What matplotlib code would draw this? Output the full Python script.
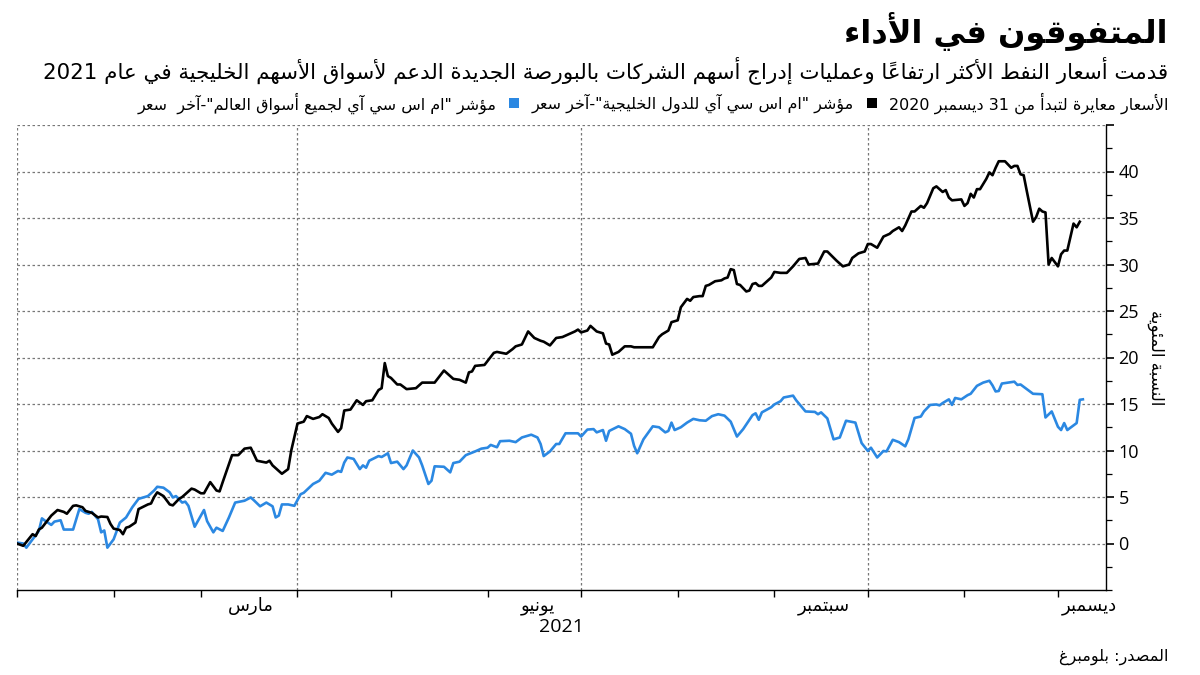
import numpy as np
import pandas as pd
import matplotlib
matplotlib.use('Agg')
import matplotlib.pyplot as plt
import matplotlib.dates as mdates
from matplotlib.ticker import MultipleLocator, FixedLocator, FixedFormatter, NullFormatter, FuncFormatter
from matplotlib.patches import Rectangle

# ---------------- data ----------------
BASE_DATE = '2021-01-01'
gcc_days = [0, 2, 5, 6, 7, 8, 11, 13, 15, 16, 18, 19, 21, 22, 24, 26, 27, 29, 30, 31, 33, 34, 35, 36, 38, 39,
            42, 43, 44, 45, 47, 49, 50, 52, 53, 56, 57, 59, 60, 62, 64, 65, 66, 69, 71, 73, 75, 77, 80, 81, 82,
            85, 87, 88, 90, 92, 93, 95, 97, 98, 100, 101, 103, 104, 105, 107, 109, 111, 112, 114, 116, 117, 118,
            119, 120, 122, 123, 125, 128, 130, 134, 137, 140, 142, 144, 145, 146, 147, 150, 153, 154, 157, 159,
            160, 162, 164, 166, 168, 169, 171, 173, 175, 177, 179, 180, 181, 183, 184, 186, 188, 189, 190, 191,
            193, 195, 197, 198, 204, 206, 207, 209, 210, 212, 213, 215, 216, 217, 219, 220, 221, 222, 224, 226,
            227, 228, 229, 230, 231, 232, 234, 235, 236, 237, 238, 239, 242, 243, 245, 247, 249, 251, 253, 254,
            257, 259, 260, 263, 265, 267, 268, 270, 272, 273, 274, 276, 278, 280, 281, 282, 283, 284, 285, 287,
            288, 290, 291, 292, 294, 295, 297, 298, 299, 300, 303, 304, 305, 306, 307, 308, 309, 311, 312, 313,
            314, 315, 317, 319, 320, 321, 322, 323, 324, 326, 327, 328, 329, 330, 331, 332, 334, 335, 336, 337,
            339, 340, 341]
gcc_vals = [0.0, -0.25, 1.0, 0.8, 1.5, 1.7, 3.0, 3.6, 3.4, 3.2, 4.05, 4.1, 3.9, 3.5, 3.3, 2.8, 2.9, 2.85, 2.1,
            1.6, 1.45, 1.0, 1.7, 1.8, 2.25, 3.7, 4.2, 4.3, 5.0, 5.5, 5.1, 4.2, 4.1, 4.8, 5.0, 5.9, 5.8, 5.4, 5.4,
            6.6, 5.7, 5.6, 6.6, 9.5, 9.5, 10.2, 10.3, 8.9, 8.7, 8.9, 8.4, 7.5, 8.0, 10.0, 12.9, 13.1, 13.7, 13.4,
            13.6, 13.9, 13.5, 12.9, 12.0, 12.4, 14.3, 14.4, 15.4, 14.9, 15.3, 15.4, 16.5, 16.7, 19.4, 18.0, 17.8,
            17.1, 17.1, 16.6, 16.7, 17.3, 17.3, 18.6, 17.7, 17.6, 17.3, 18.4, 18.5, 19.1, 19.2, 20.5, 20.6, 20.4,
            20.9, 21.2, 21.4, 22.8, 22.1, 21.8, 21.7, 21.3, 22.1, 22.2, 22.5, 22.8, 23.0, 22.7, 22.9, 23.4, 22.8,
            22.6, 21.5, 21.4, 20.3, 20.6, 21.2, 21.2, 21.1, 21.1, 22.2, 22.5, 22.9, 23.8, 24.0, 25.4, 26.3, 26.1,
            26.5, 26.6, 26.6, 27.7, 27.8, 28.2, 28.3, 28.5, 28.6, 29.5, 29.4, 27.9, 27.8, 27.1, 27.2, 27.9, 28.0,
            27.7, 27.7, 28.6, 29.2, 29.1, 29.1, 29.8, 30.6, 30.7, 30.0, 30.1, 31.4, 31.4, 30.4, 29.8, 30.0, 30.7,
            31.2, 31.4, 32.2, 32.2, 31.8, 33.0, 33.3, 33.6, 33.8, 34.0, 33.6, 34.2, 35.7, 35.7, 36.3, 36.1, 36.6,
            38.2, 38.4, 37.8, 38.0, 37.2, 36.9, 37.0, 36.3, 36.6, 37.6, 37.2, 38.1, 38.1, 39.2, 39.9, 39.6, 40.4,
            41.1, 41.1, 40.4, 40.6, 40.6, 39.7, 39.6, 37.9, 34.6, 35.1, 36.0, 35.7, 35.6, 30.0, 30.7, 29.8, 31.1,
            31.5, 31.5, 34.4, 34.0, 34.6]

world_days = [0, 2, 3, 5, 7, 8, 9, 11, 12, 14, 15, 18, 20, 22, 23, 24, 26, 27, 28, 29, 31, 33, 35, 37, 39, 42,
              44, 45, 47, 49, 50, 51, 53, 54, 55, 57, 59, 60, 61, 63, 64, 66, 68, 70, 73, 75, 76, 78, 80, 82, 83,
              84, 85, 87, 89, 91, 92, 95, 97, 99, 101, 103, 104, 105, 106, 108, 110, 111, 112, 113, 116, 117, 119,
              120, 122, 124, 125, 127, 129, 130, 132, 133, 134, 137, 139, 140, 142, 144, 147, 149, 151, 152, 154,
              155, 158, 160, 162, 165, 167, 168, 169, 171, 173, 174, 176, 180, 181, 183, 185, 186, 188, 189, 190,
              193, 195, 197, 198, 199, 201, 204, 206, 208, 209, 210, 211, 213, 215, 217, 219, 221, 223, 225, 227,
              229, 231, 233, 236, 237, 238, 239, 242, 243, 245, 246, 249, 250, 253, 256, 257, 258, 260, 262, 264,
              266, 269, 271, 273, 274, 276, 278, 279, 281, 283, 285, 286, 288, 290, 291, 293, 295, 296, 297, 299,
              300, 301, 303, 305, 306, 308, 310, 312, 313, 314, 315, 316, 320, 321, 322, 326, 329, 330, 332, 334,
              335, 336, 337, 340, 341, 342]
world_vals = [0.1, 0.0, -0.45, 0.45, 1.35, 2.7, 2.45, 2.0, 2.35, 2.5, 1.5, 1.5, 3.7, 3.3, 3.2, 3.4, 2.6, 1.2, 1.4,
              -0.45, 0.45, 2.25, 2.8, 3.9, 4.8, 5.1, 5.7, 6.1, 6.0, 5.5, 4.95, 5.1, 4.4, 4.5, 4.05, 1.8, 3.0, 3.6,
              2.4, 1.2, 1.7, 1.35, 2.8, 4.4, 4.6, 4.95, 4.65, 4.0, 4.4, 4.0, 2.8, 3.0, 4.2, 4.2, 4.05, 5.3, 5.45,
              6.4, 6.75, 7.6, 7.4, 7.8, 7.7, 8.7, 9.25, 9.1, 8.0, 8.4, 8.15, 8.9, 9.4, 9.3, 9.7, 8.65, 8.8, 8.0,
              8.4, 10.0, 9.25, 8.4, 6.4, 6.75, 8.3, 8.25, 7.65, 8.65, 8.8, 9.5, 9.9, 10.2, 10.3, 10.6, 10.35, 11.0,
              11.05, 10.9, 11.4, 11.7, 11.4, 10.7, 9.4, 9.9, 10.7, 10.7, 11.85, 11.85, 11.5, 12.25, 12.3, 11.95,
              12.2, 11.05, 12.1, 12.6, 12.3, 11.8, 10.5, 9.7, 11.2, 12.6, 12.5, 11.95, 12.1, 13.0, 12.2, 12.5,
              13.0, 13.4, 13.25, 13.2, 13.7, 13.9, 13.75, 13.1, 11.5, 12.3, 13.8, 14.0, 13.3, 14.1, 14.65, 14.95,
              15.3, 15.7, 15.9, 15.4, 14.2, 14.15, 13.9, 14.1, 13.45, 11.2, 11.4, 13.2, 13.0, 10.8, 9.95, 10.3,
              9.25, 9.95, 9.9, 11.15, 10.9, 10.45, 11.2, 13.5, 13.65, 14.2, 14.9, 14.95, 14.85, 15.1, 15.5, 14.9,
              15.65, 15.5, 15.95, 16.1, 16.95, 17.3, 17.5, 17.0, 16.35, 16.4, 17.2, 17.4, 17.05, 17.1, 16.1,
              16.05, 13.55, 14.2, 12.55, 12.2, 12.95, 12.2, 12.95, 15.45, 15.5]

title = 'المتفوقون في الأداء'
subtitle = 'قدمت أسعار النفط الأكثر ارتفاعاً وعمليات إدراج أسهم الشركات بالبورصة الجديدة الدعم لأسواق الأسهم الخليجية في عام 2021'
legend_note = 'الأسعار معايرة لتبدأ من 31 ديسمبر 2020'
gcc_label = 'مؤشر "ام اس سي آي للدول الخليجية"-آخر سعر'
world_label = 'مؤشر "ام اس سي آي لجميع أسواق العالم"-آخر  سعر'
month_labels = ['مارس', 'يونيو', 'سبتمبر', 'ديسمبر']
month_label_dates = ['2021-03-17', '2021-06-17', '2021-09-17', '2021-12-11']
quarter_dates = ['2021-01-01', '2021-04-01', '2021-07-01', '2021-10-01']
year_label = '2021'
y_label = 'النسبة المئوية'
source = 'المصدر: بلومبرغ'
x_end = '2021-12-16 10:00'

# ---------------- Arabic shaping (presentation forms + visual order) ----------------
_FORMS = {
    '\u0621': ('\uFE80', None, None, None),
    '\u0622': ('\uFE81', '\uFE82', None, None),
    '\u0623': ('\uFE83', '\uFE84', None, None),
    '\u0624': ('\uFE85', '\uFE86', None, None),
    '\u0625': ('\uFE87', '\uFE88', None, None),
    '\u0626': ('\uFE89', '\uFE8A', '\uFE8B', '\uFE8C'),
    '\u0627': ('\uFE8D', '\uFE8E', None, None),
    '\u0628': ('\uFE8F', '\uFE90', '\uFE91', '\uFE92'),
    '\u0629': ('\uFE93', '\uFE94', None, None),
    '\u062A': ('\uFE95', '\uFE96', '\uFE97', '\uFE98'),
    '\u062B': ('\uFE99', '\uFE9A', '\uFE9B', '\uFE9C'),
    '\u062C': ('\uFE9D', '\uFE9E', '\uFE9F', '\uFEA0'),
    '\u062D': ('\uFEA1', '\uFEA2', '\uFEA3', '\uFEA4'),
    '\u062E': ('\uFEA5', '\uFEA6', '\uFEA7', '\uFEA8'),
    '\u062F': ('\uFEA9', '\uFEAA', None, None),
    '\u0630': ('\uFEAB', '\uFEAC', None, None),
    '\u0631': ('\uFEAD', '\uFEAE', None, None),
    '\u0632': ('\uFEAF', '\uFEB0', None, None),
    '\u0633': ('\uFEB1', '\uFEB2', '\uFEB3', '\uFEB4'),
    '\u0634': ('\uFEB5', '\uFEB6', '\uFEB7', '\uFEB8'),
    '\u0635': ('\uFEB9', '\uFEBA', '\uFEBB', '\uFEBC'),
    '\u0636': ('\uFEBD', '\uFEBE', '\uFEBF', '\uFEC0'),
    '\u0637': ('\uFEC1', '\uFEC2', '\uFEC3', '\uFEC4'),
    '\u0638': ('\uFEC5', '\uFEC6', '\uFEC7', '\uFEC8'),
    '\u0639': ('\uFEC9', '\uFECA', '\uFECB', '\uFECC'),
    '\u063A': ('\uFECD', '\uFECE', '\uFECF', '\uFED0'),
    '\u0641': ('\uFED1', '\uFED2', '\uFED3', '\uFED4'),
    '\u0642': ('\uFED5', '\uFED6', '\uFED7', '\uFED8'),
    '\u0643': ('\uFED9', '\uFEDA', '\uFEDB', '\uFEDC'),
    '\u0644': ('\uFEDD', '\uFEDE', '\uFEDF', '\uFEE0'),
    '\u0645': ('\uFEE1', '\uFEE2', '\uFEE3', '\uFEE4'),
    '\u0646': ('\uFEE5', '\uFEE6', '\uFEE7', '\uFEE8'),
    '\u0647': ('\uFEE9', '\uFEEA', '\uFEEB', '\uFEEC'),
    '\u0648': ('\uFEED', '\uFEEE', None, None),
    '\u0649': ('\uFEEF', '\uFEF0', None, None),
    '\u064A': ('\uFEF1', '\uFEF2', '\uFEF3', '\uFEF4'),
}
_LAMALEF = {'\u0622': ('\uFEF5', '\uFEF6'), '\u0623': ('\uFEF7', '\uFEF8'),
            '\u0625': ('\uFEF9', '\uFEFA'), '\u0627': ('\uFEFB', '\uFEFC')}


def _is_mark(c):
    return '\u064B' <= c <= '\u065F' or c == '\u0670'


def ar(text):
    items = []
    for ch in text:
        if _is_mark(ch) and items:
            items[-1][1] += ch
        else:
            items.append([ch, ''])
    merged = []
    i = 0
    while i < len(items):
        b, m = items[i]
        if b == '\u0644' and i + 1 < len(items) and items[i + 1][0] in _LAMALEF:
            merged.append(['LA' + items[i + 1][0], m + items[i + 1][1]])
            i += 2
        else:
            merged.append([b, m])
            i += 1

    def dual(b):
        return b in _FORMS and _FORMS[b][2] is not None

    def joinable(b):
        return b in _FORMS or b.startswith('LA')

    glyphs = []
    for k, (b, m) in enumerate(merged):
        prev = merged[k - 1][0] if k > 0 else None
        nxt = merged[k + 1][0] if k + 1 < len(merged) else None
        cp = prev is not None and dual(prev) and joinable(b)
        if b.startswith('LA'):
            g = _LAMALEF[b[2]][1 if cp else 0]
        elif b in _FORMS:
            cn = dual(b) and nxt is not None and joinable(nxt)
            iso, fin, ini, med = _FORMS[b]
            if cp and cn:
                g = med
            elif cp:
                g = fin
            elif cn:
                g = ini
            else:
                g = iso
        else:
            g = b
        glyphs.append((g, m, b))
    # visual order: reverse, keeping runs of digits/latin in logical order
    runs = []
    for g, m, b in glyphs:
        ltr = b.isascii() and b.isalnum()
        if ltr and runs and runs[-1][0]:
            runs[-1][1].append(g + m)
        else:
            runs.append([ltr, [g + m]])
    out = []
    for ltr, gl in reversed(runs):
        out.append(''.join(gl) if ltr else ''.join(reversed(gl)))
    return ''.join(out)


# ---------------- figure ----------------
plt.rcParams['font.family'] = ['DejaVu Sans']
W, H = 1200, 675
fig = plt.figure(figsize=(12, 6.75), dpi=100)
fig.patch.set_facecolor('white')

ax = fig.add_axes([17 / W, 1 - 590 / H, (1106 - 17) / W, (590 - 125) / H])

base = pd.Timestamp(BASE_DATE)
gcc_dates = base + pd.to_timedelta(gcc_days, unit='D')
world_dates = base + pd.to_timedelta(world_days, unit='D')

grid_kw = dict(color='#777777', linewidth=0.9, linestyle=(0, (2, 2)))
for q in quarter_dates:
    ax.axvline(pd.Timestamp(q), zorder=1, **grid_kw)

ax.plot(world_dates, world_vals, color='#2B88E2', linewidth=1.9, zorder=3, solid_joinstyle='round')
ax.plot(gcc_dates, gcc_vals, color='#000000', linewidth=1.9, zorder=4, solid_joinstyle='round')

ax.set_xlim(base, pd.Timestamp(x_end))
ax.set_ylim(-5, 45)

# y axis on right
ax.yaxis.tick_right()
ax.yaxis.set_label_position('right')
ax.yaxis.set_major_locator(FixedLocator(list(range(0, 46, 5))))
ax.yaxis.set_major_formatter(FuncFormatter(lambda v, p: '' if v > 40 else f'{int(round(v))}'))
ax.yaxis.set_minor_locator(MultipleLocator(2.5))
ax.tick_params(axis='y', which='major', direction='out', length=6, width=1.2, labelsize=13, pad=3, colors='black')
ax.tick_params(axis='y', which='minor', direction='out', length=4, width=0.9)
ax.grid(axis='y', which='major', zorder=1, **grid_kw)
for lab in ax.get_yticklabels():
    lab.set_family(['Open Sans', 'DejaVu Sans'])

# x axis
ax.xaxis.set_major_locator(mdates.MonthLocator())
ax.xaxis.set_major_formatter(NullFormatter())
ax.xaxis.set_minor_locator(FixedLocator(mdates.date2num(pd.to_datetime(month_label_dates))))
ax.xaxis.set_minor_formatter(FixedFormatter([ar(s) for s in month_labels]))
ax.tick_params(axis='x', which='major', direction='out', length=5, width=1.0)
ax.tick_params(axis='x', which='minor', length=0, labelsize=13, pad=5)
ax.set_xlabel(year_label, fontsize=14, labelpad=2, family=['Open Sans', 'DejaVu Sans'])

ax.set_ylabel(ar(y_label), rotation=270, fontsize=12, labelpad=6, va='bottom')

for s in ['left', 'top']:
    ax.spines[s].set_visible(False)
ax.spines['bottom'].set_linewidth(1.0)
ax.spines['right'].set_linewidth(1.0)

# ---------------- header texts ----------------
RX = 1168 / W
fig.text(RX, 1 - 32 / H, ar(title), ha='right', va='center', fontsize=23, fontweight='bold')
fig.text(RX, 1 - 70 / H, ar(subtitle), ha='right', va='center', fontsize=15.4)
fig.text(RX, 1 - 657 / H, ar(source), ha='right', va='center', fontsize=11.5)

# legend row (right to left)
fig.canvas.draw()
renderer = fig.canvas.get_renderer()
ly = 1 - 103 / H
x_px = 1168
pieces = [(legend_note, None), (gcc_label, '#000000'), (world_label, '#2B88E2')]
for text, sq_color in pieces:
    if sq_color is not None:
        x_px -= 12
        fig.add_artist(Rectangle(((x_px - 10) / W, ly - 5 / H), 10 / W, 10 / H,
                                 transform=fig.transFigure, facecolor=sq_color, edgecolor='none'))
        x_px -= 10 + 13
    t = fig.text(x_px / W, ly, ar(text), ha='right', va='center', fontsize=11.5)
    bb = t.get_window_extent(renderer)
    x_px = bb.x0

fig.savefig('out.png', dpi=100, facecolor='white')
